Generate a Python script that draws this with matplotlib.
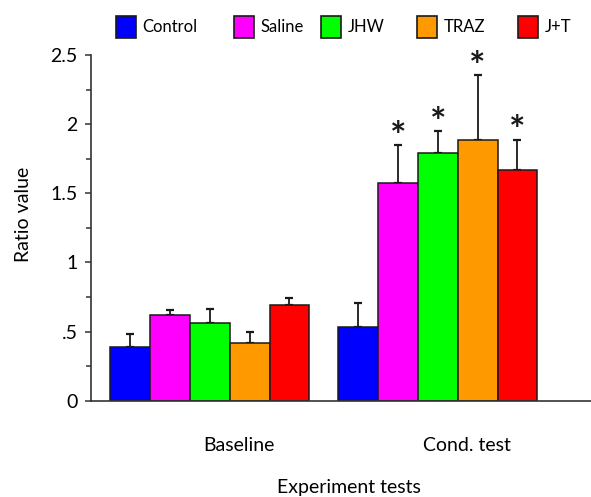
import matplotlib
matplotlib.use("Agg")
import matplotlib.pyplot as plt
import matplotlib.patches as mpatches
from matplotlib.ticker import MultipleLocator, FixedLocator
import numpy as np

plt.rcParams['font.family'] = ['Lato', 'DejaVu Sans']

groups = ["Baseline", "Cond. test"]
treatments = ["Control", "Saline", "JHW", "TRAZ", "J+T"]
colors = ["#0000FF", "#FF00FF", "#00FF00", "#FF9900", "#FF0000"]

# mean ratio per treatment, one list per test
baseline_means = [0.39, 0.617, 0.559, 0.414, 0.69]
cond_means = [0.535, 1.572, 1.793, 1.885, 1.666]
# upper error (SEM)
baseline_err = [0.09, 0.039, 0.104, 0.08, 0.053]
cond_err = [0.169, 0.275, 0.159, 0.47, 0.221]
# significance marks on the conditioning test
cond_signif = [False, True, True, True, True]

means = [baseline_means, cond_means]
errs = [baseline_err, cond_err]
signif = [[False] * 5, cond_signif]

fig = plt.figure(figsize=(5.91, 4.97), dpi=100)
ax = fig.add_axes([0.154, 0.1938, 0.846, 0.6955])

group_start = [0.0, 5.73]
for g in range(len(groups)):
    for i in range(len(treatments)):
        x = group_start[g] + i
        ax.bar(x, means[g][i], width=1.0, color=colors[i], edgecolor="#1a1a1a",
               linewidth=1.1, zorder=2)
        ax.errorbar(x, means[g][i], yerr=[[0], [errs[g][i]]], fmt="none",
                    ecolor="#1a1a1a", elinewidth=1.3, capsize=2.6, capthick=1.6,
                    zorder=1)
        if signif[g][i]:
            ax.annotate("*", (x, means[g][i] + errs[g][i]), xytext=(0, -7),
                        textcoords="offset points", ha="center", va="bottom",
                        fontsize=28, fontweight="bold", color="#1a1a1a")

ax.set_xlim(-0.987, 11.58)
ax.set_ylim(0, 2.5)

ax.spines["top"].set_visible(False)
ax.spines["right"].set_visible(False)
for s in ("left", "bottom"):
    ax.spines[s].set_linewidth(1.2)
    ax.spines[s].set_color("#333333")

ax.yaxis.set_major_locator(FixedLocator([0, 0.5, 1, 1.5, 2, 2.5]))
ax.set_yticklabels(["0", ".5", "1", "1.5", "2", "2.5"])
ax.yaxis.set_minor_locator(MultipleLocator(0.25))
ax.tick_params(axis="y", which="major", direction="out", length=4.5, width=1.1,
               color="#333333", labelsize=14, pad=5)
ax.tick_params(axis="y", which="minor", direction="out", length=3.5, width=1.1,
               color="#333333")

label_pos = [group_start[g] + 2 + 0.73 for g in range(len(groups))]
ax.set_xticks(label_pos)
ax.set_xticklabels(groups)
ax.tick_params(axis="x", length=0, labelsize=14, pad=26)

ax.set_xlabel("Experiment tests", fontsize=14)
ax.xaxis.set_label_coords(0.515, -0.226)
ax.set_ylabel("Ratio value", fontsize=14)
ax.yaxis.set_label_coords(-0.118, 0.54)

# one legend entry per treatment across the top
legend_left_px = [115.7, 234, 320.7, 416.7, 517.7]
for name, col, px in zip(treatments, colors, legend_left_px):
    h = mpatches.Patch(facecolor=col, edgecolor="#1a1a1a", linewidth=1.2)
    fig.legend(handles=[h], labels=[name], loc="center left",
               bbox_to_anchor=(px / 591, 1 - 27 / 497), frameon=False,
               fontsize=12, handlelength=1.2, handleheight=1.6,
               handletextpad=0.4, borderpad=0, borderaxespad=0)

fig.savefig("out.png", dpi=100)
